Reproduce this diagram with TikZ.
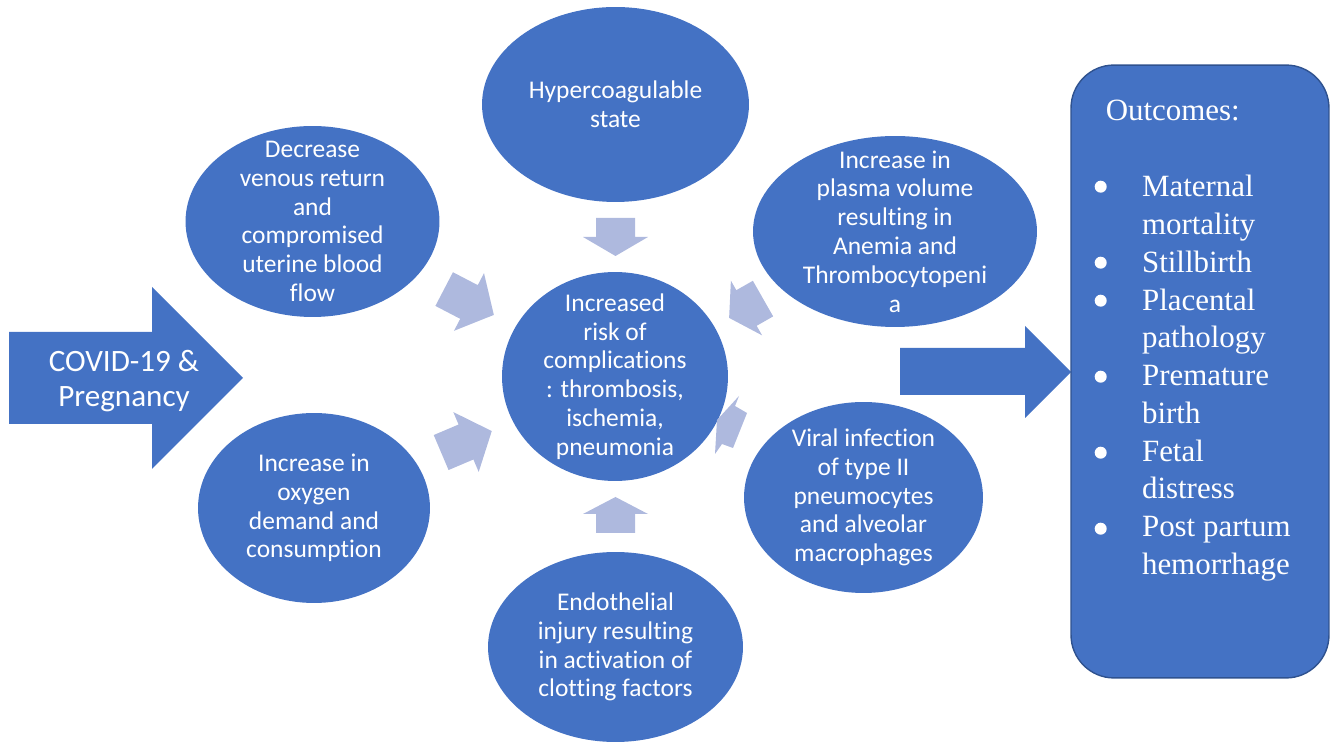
\documentclass[tikz,border=0pt]{standalone}
\usepackage{fontspec}
\setmainfont{Carlito}[Ligatures=NoCommon]
\newfontfamily\outfont{Liberation Serif}
\usepackage{xcolor}
\usepackage{tikz}
\usetikzlibrary{shapes.geometric}
\definecolor{bubbleblue}{HTML}{4472C4}
\definecolor{edgeblue}{HTML}{2F528F}
\definecolor{lilac}{HTML}{AEB9DE}
\tikzset{
  bubble/.style={ellipse, fill=bubbleblue, inner sep=0pt, outer sep=0pt},
  bubbletext/.style={text=white, align=center, inner sep=0pt, font=\fontsize{14.5}{16.4}\selectfont},
  softarrow/.style={fill=lilac},
  outtext/.style={text=white, inner sep=0pt, font=\outfont\fontsize{17.6}{21.5}\selectfont},
}

\begin{document}
\begin{tikzpicture}[x=0.02cm,y=-0.02cm]
	\useasboundingbox (0,0) rectangle (1330,742);
	% input arrow
	\fill[bubbleblue] (9,332) -- (152,332) -- (152,287) -- (243,378) -- (152,469) -- (152,424) -- (9,424) -- cycle;
	\node[bubbletext, font=\fontsize{17.7}{20.4}\selectfont] (covid) at (124,381) {COVID-19 \&\\Pregnancy};
	% the bubbles
	\node[bubble, minimum width=5.34cm, minimum height=3.9cm] (hyper) at (615.5,104.5) {};
	\node[bubble, minimum width=5.08cm, minimum height=3.82cm] (venous) at (312.5,221.5) {};
	\node[bubble, minimum width=5.68cm, minimum height=3.82cm] (plasma) at (895,231.5) {};
	\node[bubble, minimum width=4.52cm, minimum height=4.18cm] (risk) at (615,376.5) {};
	\node[bubble, minimum width=4.64cm, minimum height=3.8cm] (oxygen) at (314,508) {};
	\node[bubble, minimum width=4.78cm, minimum height=3.82cm] (viral) at (863.5,497.5) {};
	\node[bubble, minimum width=5.1cm, minimum height=3.8cm] (endo) at (615.5,647) {};
	\node[bubbletext] (hypertext) at (hyper) {Hypercoagulable\\state};
	\node[bubbletext] (venoustext) at (venous) {Decrease\\venous return\\and\\compromised\\uterine blood\\flow};
	\node[bubbletext] (plasmatext) at (plasma) {Increase in\\plasma volume\\resulting in\\Anemia and\\Thrombocytopeni\\a};
	\node[bubbletext] (risktext) at (risk) {Increased\\risk of\\complications\\: thrombosis,\\ischemia,\\pneumonia};
	\node[bubbletext] (oxygentext) at (oxygen) {Increase in\\oxygen\\demand and\\consumption};
	\node[bubbletext] (viraltext) at (viral) {Viral infection\\of type II\\pneumocytes\\and alveolar\\macrophages};
	\node[bubbletext] (endotext) at (endo) {Endothelial\\injury resulting\\in activation of\\clotting factors};
	% small arrows into the middle
	\fill[softarrow, shift={(615.5,237)}, rotate=-90] (-19,-19.5) -- (0,-19.5) -- (0,-32.5) -- (19,0) -- (0,32.5) -- (0,19.5) -- (-19,19.5) -- cycle;
	\fill[softarrow, shift={(615.5,514)}, rotate=90] (-19,-19.5) -- (0,-19.5) -- (0,-32.5) -- (17,0) -- (0,32.5) -- (0,19.5) -- (-19,19.5) -- cycle;
	\fill[softarrow, shift={(469,302)}, rotate=-27.5] (-28,-19) -- (0,-19) -- (0,-32.5) -- (28,0) -- (0,32.5) -- (0,19) -- (-28,19) -- cycle;
	\fill[softarrow, shift={(466,442)}, rotate=23] (-27,-19) -- (0,-19) -- (0,-32.5) -- (28,0) -- (0,32.5) -- (0,19) -- (-27,19) -- cycle;
	\fill[softarrow, shift={(746.5,308)}, rotate=209.7] (-19,-20.5) -- (0,-20.5) -- (0,-31.5) -- (20,0) -- (0,31.5) -- (0,20.5) -- (-19,20.5) -- cycle;
	\fill[softarrow] (739,396) -- (735,406) -- (747,413) -- (733,448) -- (722,444) -- (715,454) -- (717,420) -- cycle;
	% output arrow
	\fill[bubbleblue] (900,348) -- (1025,348) -- (1025,326) -- (1071,372) -- (1025,418) -- (1025,395) -- (900,395) -- cycle;
	% outcomes
	\node[draw=edgeblue, line width=0.8pt, fill=bubbleblue, rounded corners=0.86cm, minimum width=5.16cm, minimum height=12.26cm, inner sep=0pt] (outcomes) at (1200,371.5) {};
	\node[outtext, anchor=base west] (outtitle) at (1105.5,121) {Outcomes:};
	\node[outtext, anchor=base west] (outlist) at (1141.7,196.7) {%
		\begin{tabular}[t]{@{}l@{}}
			Maternal\\ mortality\\ Stillbirth\\ Placental\\ pathology\\ Premature\\
			birth\\ Fetal\\ distress\\ Post partum\\ hemorrhage
		\end{tabular}};
	\foreach \k in {0,2,3,5,7,9}
		\fill[white] (1100.7,186.7+38*\k) circle (6);
\end{tikzpicture}
\end{document}
